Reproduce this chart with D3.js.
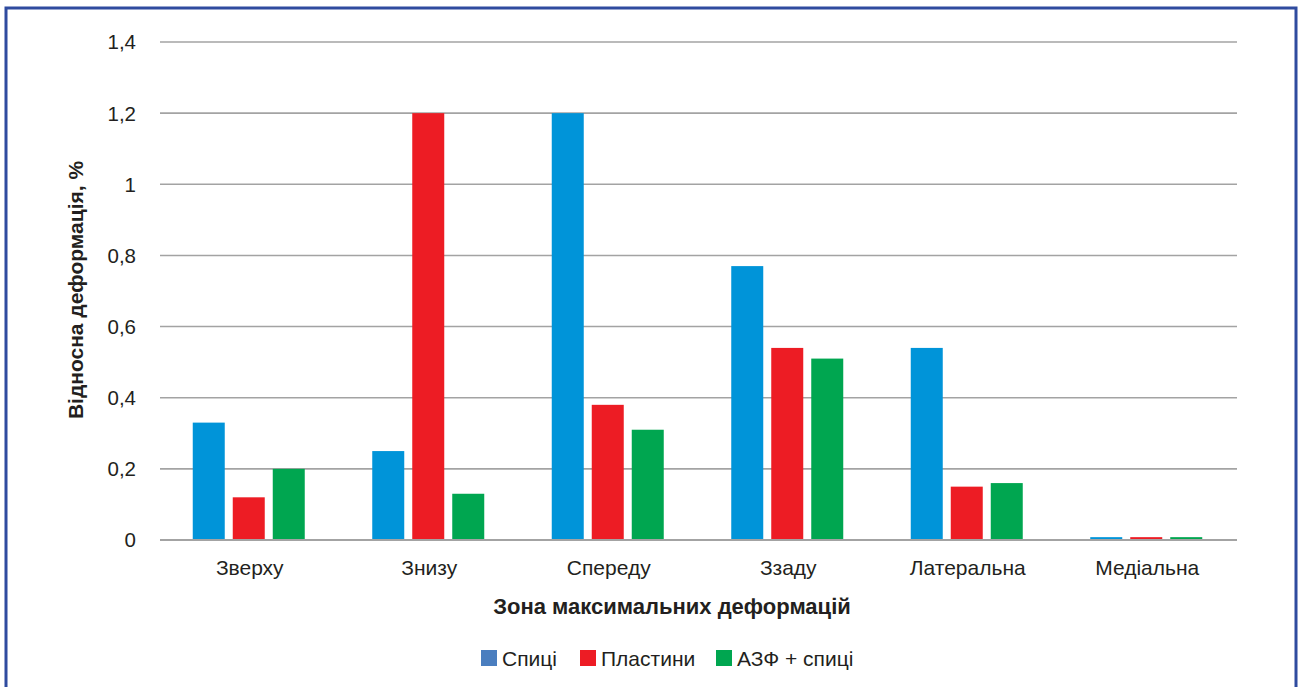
<!DOCTYPE html>
<html><head><meta charset="utf-8">
<script src="https://cdn.jsdelivr.net/npm/d3@7"></script>
<style>body{margin:0;background:#fff}svg{display:block;font-family:"Liberation Sans",Arial,sans-serif}</style>
</head><body><svg id="c" width="1300" height="687"></svg>
<script>
const categories = ["Зверху","Знизу","Спереду","Ззаду","Латеральна","Медіальна"];
const seriesNames = ["Спиці","Пластини","АЗФ + спиці"];
const spytsi = [0.33,0.25,1.2,0.77,0.54,0.008];
const plastyny = [0.12,1.2,0.38,0.54,0.15,0.008];
const azfSpytsi = [0.2,0.13,0.31,0.51,0.16,0.008];
const yTicks = [0,0.2,0.4,0.6,0.8,1,1.2,1.4];
const barColors = ["#0094d9","#ed1c24","#00a650"];
const legendColors = ["#4a7ebf","#ed1c24","#00a650"];
const series = [spytsi, plastyny, azfSpytsi];

const svg = d3.select("#c");
const pLeft = 160, pRight = 1237, pTop = 42, pBottom = 540;
const x = d3.scaleBand().domain(categories).range([pLeft,pRight]).paddingInner(0).paddingOuter(0);
const y = d3.scaleLinear().domain([0,1.4]).range([pBottom,pTop]);
const bw = 32, gap = 8;

// border
svg.append("rect").attr("x",6).attr("y",8).attr("width",1290).attr("height",700)
  .attr("fill","none").attr("stroke","#2f4b9f").attr("stroke-width",3);

// gridlines
svg.append("g").selectAll("line").data(yTicks).join("line")
  .attr("x1",pLeft).attr("x2",pRight).attr("y1",d=>y(d)).attr("y2",d=>y(d))
  .attr("stroke","#a3a3a3").attr("stroke-width",1.6);

// y labels
svg.append("g").selectAll("text").data(yTicks).join("text")
  .attr("x",136).attr("y",d=>y(d)).attr("dy","0.36em").attr("text-anchor","end")
  .attr("font-size",20.5).attr("fill","#231f20")
  .text(d=>d3.format("")(d).replace(".",","));

// bars
series.forEach((vals,si)=>{
  svg.append("g").selectAll("rect").data(vals).join("rect")
    .attr("x",(d,i)=>x(categories[i])+x.bandwidth()/2 - (3*bw+2*gap)/2 + si*(bw+gap) - 1)
    .attr("y",d=>y(d)).attr("width",bw).attr("height",d=>pBottom-y(d))
    .attr("fill",barColors[si]);
});

// zero line on top
svg.append("line").attr("x1",pLeft).attr("x2",pRight).attr("y1",y(0)).attr("y2",y(0))
  .attr("stroke","#a3a3a3").attr("stroke-width",1.8);

// x labels
svg.append("g").selectAll("text").data(categories).join("text")
  .attr("x",d=>x(d)+x.bandwidth()/2).attr("y",575).attr("text-anchor","middle")
  .attr("font-size",21).attr("fill","#231f20").text(d=>d);

// axis titles
svg.append("text").attr("x",672).attr("y",614).attr("text-anchor","middle")
  .attr("font-size",22).attr("font-weight","bold").attr("fill","#231f20")
  .text("Зона максимальних деформацій");
svg.append("text").attr("transform","translate(83,290) rotate(-90)").attr("text-anchor","middle")
  .attr("font-size",21).attr("font-weight","bold").attr("fill","#231f20")
  .text("Відносна деформація, %");

// legend
const legX = [481,580,716];
const lg = svg.append("g");
seriesNames.forEach((n,i)=>{
  lg.append("rect").attr("x",legX[i]).attr("y",650).attr("width",16).attr("height",16).attr("fill",legendColors[i]);
  lg.append("text").attr("x",legX[i]+21).attr("y",666).attr("font-size",21).attr("fill","#231f20").text(n);
});
</script></body></html>
